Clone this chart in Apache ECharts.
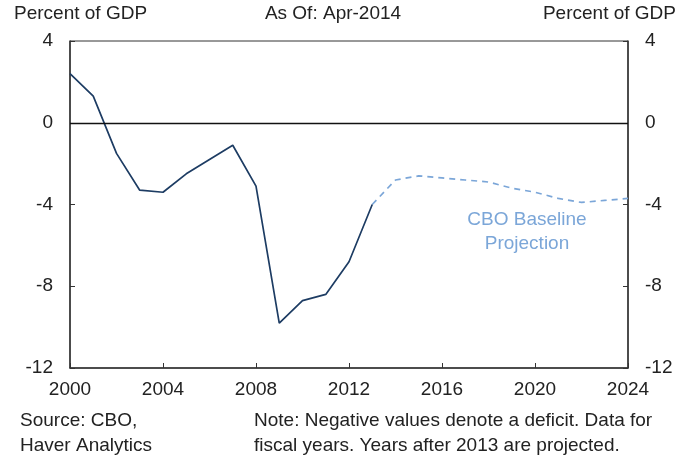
<!DOCTYPE html>
<html>
	<head>
		<meta charset="utf-8" />
		<title>Federal Budget Balance</title>
		<style>
			body { margin: 0; background: #fff; }
			#chartmain { width: 682px; height: 458px; }
		</style>
	</head>
	<body>
		<div id="chartmain"></div>
		<script type="text/javascript" src="https://cdn.jsdelivr.net/npm/echarts@6/dist/echarts.min.js"></script>
		<script type="text/javascript">
			// actual fiscal years
			var actualYears = [2000, 2001, 2002, 2003, 2004, 2005, 2006, 2007, 2008, 2009, 2010, 2011, 2012, 2013];
			var actualValues = [2.4, 1.3, -1.5, -3.3, -3.4, -2.5, -1.8, -1.1, -3.1, -9.8, -8.7, -8.4, -6.8, -4.0];
			// CBO baseline projection (starts from 2013 so the lines join)
			var projYears = [2013, 2014, 2015, 2016, 2017, 2018, 2019, 2020, 2021, 2022, 2023, 2024];
			var projValues = [-4.0, -2.8, -2.6, -2.7, -2.8, -2.9, -3.2, -3.4, -3.7, -3.9, -3.8, -3.7];
			var yTicks = [-12, -8, -4, 0, 4];
			var xTicks = [2000, 2004, 2008, 2012, 2016, 2020, 2024];

			var pairs = function(xs, ys) {
				var out = [];
				for (var i = 0; i < xs.length; i++) {
					out.push([xs[i], ys[i]]);
				}
				return out;
			};

			var font = 'Liberation Sans, Arial, sans-serif';
			var txt = '19px ' + font;
			var axisCol = '#333';

			var yAxisBase = function(pos) {
				return {
					type: 'value',
					position: pos,
					min: yTicks[0],
					max: yTicks[yTicks.length - 1],
					interval: 4,
					axisLine: { show: true, lineStyle: { color: axisCol, width: 1.5 } },
					axisTick: { show: true, inside: true, length: 5, lineStyle: { color: axisCol } },
					axisLabel: { color: '#222', fontSize: 19, fontFamily: font, margin: 17 },
					splitLine: { show: false }
				};
			};

			var option = {
				animation: false,
				backgroundColor: '#fff',
				grid: { left: 70, right: 54, top: 41, bottom: 90, show: true, borderColor: axisCol, borderWidth: 1 },
				xAxis: {
					type: 'value',
					min: xTicks[0],
					max: xTicks[xTicks.length - 1],
					interval: 4,
					axisLine: { show: true, onZero: false, lineStyle: { color: axisCol, width: 1.5 } },
					axisTick: { show: true, inside: true, length: 5, lineStyle: { color: axisCol } },
					axisLabel: { color: '#222', fontSize: 19, fontFamily: font, margin: 12, formatter: function(v) { return String(v); } },
					splitLine: { show: false }
				},
				yAxis: [yAxisBase('left'), yAxisBase('right')],
				graphic: [
					{ type: 'text', x: 14, y: 4, style: { text: 'Percent of GDP', fill: '#222', font: txt } },
					{ type: 'text', x: 333, y: 4, style: { text: 'As Of: Apr-2014', fill: '#222', font: txt, align: 'center' } },
					{ type: 'text', x: 676, y: 4, style: { text: 'Percent of GDP', fill: '#222', font: txt, align: 'right' } },
					{ type: 'text', x: 20, y: 408, style: { text: 'Source: CBO,\nHaver Analytics', fill: '#222', font: txt, lineHeight: 25 } },
					{ type: 'text', x: 254, y: 408, style: { text: 'Note: Negative values denote a deficit. Data for\nfiscal years. Years after 2013 are projected.', fill: '#222', font: txt, lineHeight: 25 } },
					{ type: 'text', x: 527, y: 208, style: { text: 'CBO Baseline\nProjection', fill: '#7ba6d8', font: txt, lineHeight: 24, align: 'center' } }
				],
				series: [
					{
						name: 'Actual',
						type: 'line',
						data: pairs(actualYears, actualValues),
						symbol: 'none',
						lineStyle: { color: '#1d3c63', width: 1.7 },
						markLine: {
							silent: true,
							symbol: 'none',
							label: { show: false },
							lineStyle: { color: '#111', width: 1.3, type: 'solid' },
							data: [{ yAxis: 0 }]
						},
						z: 3
					},
					{
						name: 'CBO Baseline Projection',
						type: 'line',
						data: pairs(projYears, projValues),
						symbol: 'none',
						lineStyle: { color: '#7ba6d8', width: 1.7, type: [6, 5] },
						z: 2
					}
				]
			};

			var myChart = echarts.init(document.getElementById('chartmain'));
			myChart.setOption(option);
		</script>
	</body>
</html>
